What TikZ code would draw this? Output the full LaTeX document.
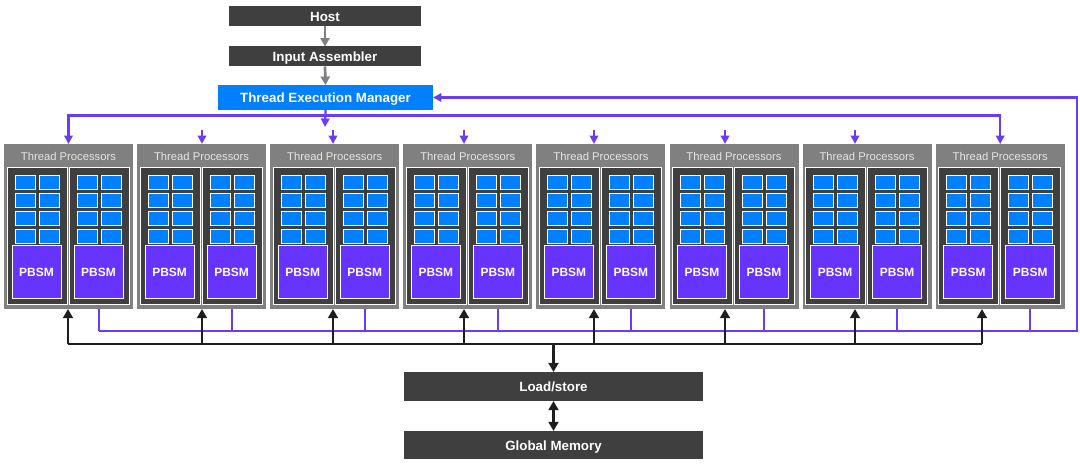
\documentclass[tikz,border=0pt]{standalone}
\usepackage{fontspec}
\setmainfont{Liberation Sans}
\usetikzlibrary{arrows.meta}

\definecolor{blockgray}{HTML}{3F3F3F}
\definecolor{tpgray}{HTML}{808080}
\definecolor{spblue}{HTML}{0080FF}
\definecolor{smpurple}{HTML}{6633FF}
\definecolor{buspurple}{HTML}{6A3CF5}
\definecolor{busblack}{HTML}{1E1E1E}

\tikzset{
  blockbox/.style={fill=blockgray, text=white, inner sep=0pt, outer sep=0pt,
    text height=0.72em, text depth=0pt,
    font=\fontsize{9.5}{11}\selectfont\bfseries},
  tpbox/.style={fill=tpgray, inner sep=0pt, outer sep=0pt,
    minimum width=129*0.025cm, minimum height=165*0.025cm},
  corebox/.style={fill=blockgray, draw=white, line width=0.7pt},
  spbox/.style={fill=spblue, draw=white, line width=0.6pt},
  smbox/.style={fill=smpurple, draw=white, line width=0.7pt, text=white,
    inner sep=0pt, outer sep=0pt, minimum width=49*0.025cm, minimum height=53*0.025cm,
    text height=0.72em, text depth=0pt,
    font=\fontsize{8.5}{10}\selectfont\bfseries},
  gline/.style={draw=tpgray, line width=1.9pt, -{Triangle[length=6pt, width=6.5pt]}},
  pline/.style={draw=buspurple, line width=1.6pt},
  bline/.style={draw=busblack, line width=1.7pt},
  ptip/.tip={Triangle[length=6pt, width=6pt]},
  btip/.tip={Triangle[length=6.5pt, width=7pt]}
}

\begin{document}
\begin{tikzpicture}[x=0.025cm, y=-0.025cm]

    \useasboundingbox (0,0) rectangle (1080,473);

    % host side
    \node[blockbox, minimum width=192*0.025cm, minimum height=20*0.025cm] (host) at (325,16) {Host};
    \node[blockbox, minimum width=192*0.025cm, minimum height=20*0.025cm] (ia) at (325,56.5) {Input Assembler};
    \node[blockbox, fill=spblue, minimum width=215*0.025cm, minimum height=25*0.025cm] (tem) at (325.5,97.5) {Thread Execution Manager};
    \draw[gline] (host.south) -- (ia.north);
    \draw[gline] (ia.south) -- (tem.north);

    % thread processor groups
    \foreach \i in {1,...,8} {
        \pgfmathsetmacro\L{4+133.1*(\i-1)}
        \node[tpbox] (tp\i) at (\L+64.5,226.5) {};
        \begin{scope}[shift={(\L,0)}]
            \node[text=white!90!black, font=\fontsize{8}{9}\selectfont, inner sep=0pt,
                text height=0.72em, text depth=0pt] (tpname\i) at (64.5,155) {Thread Processors};
            \foreach \j/\p in {1/0,2/62} {
                \draw[corebox] (\p+3,167) rectangle (\p+63,304);
                \foreach \k in {0,...,3} {
                    \draw[spbox] (\p+11,175+18*\k) rectangle (\p+31,189.5+18*\k);
                    \draw[spbox] (\p+35,175+18*\k) rectangle (\p+55,189.5+18*\k);
                }
                \node[smbox] (pbsm\i\j) at (\p+32.5,271.5) {PBSM};
            }
        \end{scope}
    }

    % dispatch from the manager
    \coordinate (dbus) at (0,115.5);
    \draw[pline, -ptip] (tem.south) -- (325,127);
    \draw[pline, ptip-ptip] (tp1.north) -- (tp1.north |- dbus) -- (tp8.north |- dbus) -- (tp8.north);
    \foreach \i/\x in {2/202,3/333,4/464,5/594,6/725,7/855}
        \draw[pline, -ptip] (\x,130) -- (tp\i.north -| \x,0);

    % feedback to the manager
    \coordinate (fb) at (1077,331);
    \foreach \i in {1,...,8} {
        \pgfmathsetmacro\X{99+133*(\i-1)}
        \draw[pline] (tp\i.south -| \X,0) -- (\X,331);
    }
    \draw[pline, -ptip] (99,331) -- (fb) -- (fb |- tem.east) -- (tem.east);

    % load/store bus
    \node[blockbox, minimum width=299*0.025cm, minimum height=29*0.025cm] (ls) at (553.5,386.5) {Load/store};
    \node[blockbox, minimum width=299*0.025cm, minimum height=28*0.025cm] (gm) at (553.5,445) {Global Memory};
    \coordinate (lbus) at (0,344);
    \draw[bline] (68,344) -- (982,344);
    \foreach \i/\x in {1/68,2/202,3/333,4/464,5/594,6/725,7/855,8/982}
        \draw[bline, -btip] (\x,344) -- (tp\i.south -| \x,0);
    \draw[bline, -btip] (ls.north |- lbus) -- (ls.north);
    \draw[bline, btip-btip] (ls.south) -- (gm.north);

\end{tikzpicture}
\end{document}
